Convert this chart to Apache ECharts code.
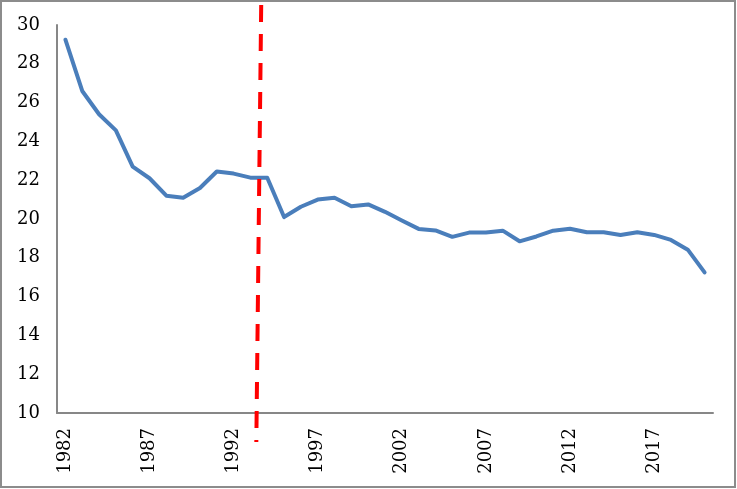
<!DOCTYPE html>
<html>
<head>
<meta charset="utf-8">
<script src="https://cdn.jsdelivr.net/npm/echarts@6/dist/echarts.min.js"></script>
<style>html,body{margin:0;padding:0;background:#fff;}#c{width:737px;height:489px;}</style>
</head>
<body>
<div id="c"></div>
<script>
const years = [];
for (let y = 1982; y <= 2020; y++) years.push(y);
const values = [29.24, 26.6, 25.4, 24.57, 22.7, 22.1, 21.2, 21.1, 21.6, 22.45, 22.34, 22.13, 22.13,
  20.1, 20.63, 21.0, 21.1, 20.66, 20.75, 20.37, 19.92, 19.49, 19.41, 19.08, 19.3, 19.3, 19.4,
  18.85, 19.1, 19.4, 19.5, 19.32, 19.32, 19.18, 19.32, 19.18, 18.92, 18.42, 17.25];
const xTickLabels = [1982, 1987, 1992, 1997, 2002, 2007, 2012, 2017];
const breakLineX = [1993.64, 1993.35];
const breakLineY = [31.03, 8.5];

const chart = echarts.init(document.getElementById('c'), null, {renderer: 'canvas'});
const font = 'DejaVu Serif';
chart.setOption({
  animation: false,
  backgroundColor: '#ffffff',
  grid: {left: 57, right: 24, top: 25, bottom: 76, containLabel: false},
  xAxis: {
    type: 'value',
    min: 1981.5,
    max: 2020.5,
    axisLine: {show: true, lineStyle: {color: '#878787', width: 2}},
    axisTick: {show: false},
    splitLine: {show: false},
    axisLabel: {
      customValues: xTickLabels,
      rotate: 90,
      margin: 15,
      color: '#000',
      fontFamily: font,
      fontSize: 18,
      formatter: v => String(v)
    }
  },
  yAxis: {
    type: 'value',
    min: 10,
    max: 30,
    interval: 2,
    axisLine: {show: true, lineStyle: {color: '#878787', width: 2}},
    axisTick: {show: false},
    splitLine: {show: false},
    axisLabel: {margin: 17, color: '#000', fontFamily: font, fontSize: 18}
  },
  series: [
    {
      type: 'line',
      data: years.map((y, i) => [y, values[i]]),
      showSymbol: false,
      symbol: 'none',
      lineStyle: {color: '#4a7ebb', width: 4, join: 'round', cap: 'round'},
      z: 3
    },
    {
      type: 'line',
      clip: false,
      data: breakLineX.map((x, i) => [x, breakLineY[i]]),
      showSymbol: false,
      symbol: 'none',
      lineStyle: {color: '#ff0000', width: 4, type: [17, 12]},
      z: 4
    }
  ],
  graphic: [{
    type: 'rect',
    shape: {x: 1, y: 1, width: 734, height: 486},
    style: {fill: 'none', stroke: '#8c8c8c', lineWidth: 2},
    silent: true
  }]
});
</script>
</body>
</html>
